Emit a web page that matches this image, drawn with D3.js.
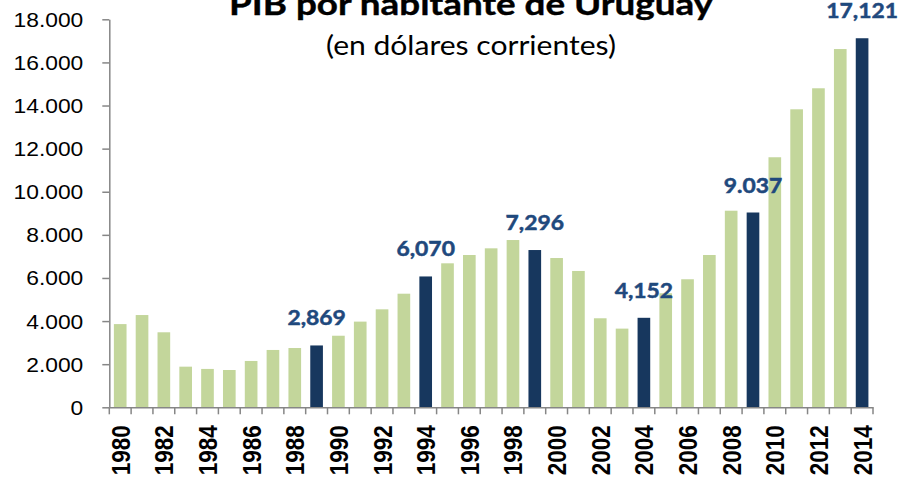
<!DOCTYPE html>
<html>
<head>
<meta charset="utf-8">
<script src="https://cdn.jsdelivr.net/npm/d3@7"></script>
<style>
  html, body { margin: 0; padding: 0; background: #ffffff; }
  svg { display: block; }
</style>
</head>
<body>
<svg id="chart" width="901" height="481"></svg>
<script>
// ---- Data ----
const years = [1980,1981,1982,1983,1984,1985,1986,1987,1988,1989,
               1990,1991,1992,1993,1994,1995,1996,1997,1998,1999,
               2000,2001,2002,2003,2004,2005,2006,2007,2008,2009,
               2010,2011,2012,2013,2014];
const gdpPerCapita = [3860,4280,3480,1885,1780,1730,2150,2660,2750,2869,
                      3320,3975,4545,5270,6070,6680,7065,7375,7760,7296,
                      6925,6325,4130,3650,4152,5290,5940,7065,9120,9037,
                      11600,13825,14800,16620,17121];
const highlightYears = [1989,1994,1999,2004,2009,2014];
const highlightLabels = ["2,869","6,070","7,296","4,152","9.037","17,121"];
const yTicks = [0,2000,4000,6000,8000,10000,12000,14000,16000,18000];
const titleText = "PIB por habitante de Uruguay";
const subtitleText = "(en dólares corrientes)";

// ---- Layout ----
const svg = d3.select("#chart");
const plotLeft = 109.3, plotRight = 873, plotTop = 19.3, plotBottom = 407.3;
const green = "#C3D69B", navy = "#17375E", labelBlue = "#1F497D", axisGray = "#868686";
const sx = 1.17;

const x = d3.scaleBand().domain(years).range([plotLeft, plotRight]).paddingInner(0.42).paddingOuter(0.21);
const y = d3.scaleLinear().domain([0, 18000]).range([plotBottom, plotTop]);
const fmt = d3.formatLocale({decimal: ",", thousands: ".", grouping: [3], currency: ["", ""]}).format(",d");

// Bars
svg.append("g").selectAll("rect").data(years).join("rect")
  .attr("x", d => x(d))
  .attr("width", x.bandwidth())
  .attr("y", (d, i) => y(gdpPerCapita[i]))
  .attr("height", (d, i) => y(0) - y(gdpPerCapita[i]))
  .attr("fill", d => highlightYears.includes(d) ? navy : green);

// Y axis
const yAxis = svg.append("g").attr("transform", `translate(${plotLeft},0)`)
  .call(d3.axisLeft(y).tickValues(yTicks).tickSize(7).tickSizeOuter(0).tickFormat(fmt));
yAxis.select(".domain").attr("stroke", axisGray).attr("stroke-width", 1.5);
yAxis.selectAll(".tick line").attr("stroke", axisGray).attr("stroke-width", 1.5);
yAxis.selectAll(".tick text")
  .attr("x", null).attr("dy", null)
  .attr("transform", "translate(-26,7) scale(" + sx + ",1)")
  .attr("text-anchor", "end")
  .attr("fill", "#000")
  .style("font-family", "'Liberation Sans', Arial, sans-serif")
  .style("font-size", "19.5px");

// X axis
const xAxis = svg.append("g").attr("transform", `translate(0,${plotBottom})`)
  .call(d3.axisBottom(x).tickSize(0).tickSizeOuter(0).tickFormat(d => d % 2 === 0 ? String(d) : ""));
xAxis.select(".domain").attr("stroke", axisGray).attr("stroke-width", 1.5);
xAxis.selectAll(".tick text")
  .attr("x", null).attr("y", null)
  .attr("transform", "translate(0,18) scale(" + sx + ",1) rotate(-90)")
  .attr("text-anchor", "end")
  .attr("dy", "0.36em")
  .attr("fill", "#000")
  .style("font-family", "'Liberation Sans', Arial, sans-serif")
  .style("font-weight", "bold")
  .style("font-size", "22.5px");
// Tick marks at category boundaries
const step = x.step();
const boundaries = d3.range(years.length + 1).map(i => x(years[0]) - x.paddingOuter() * step + i * step);
xAxis.selectAll(".bound").data(boundaries).join("line")
  .attr("class", "bound")
  .attr("x1", d => d).attr("x2", d => d)
  .attr("y1", 0).attr("y2", 7)
  .attr("stroke", axisGray).attr("stroke-width", 1.5);

// Data labels
svg.append("g").selectAll("text").data(highlightYears).join("text")
  .attr("transform", (d, i) => {
    const v = gdpPerCapita[years.indexOf(d)];
    return `translate(${x(d) + x.bandwidth() / 2},${y(v) - 20}) scale(1.09,1)`;
  })
  .attr("text-anchor", "middle")
  .attr("fill", labelBlue)
  .attr("stroke", labelBlue)
  .attr("stroke-width", 0.5)
  .style("font-family", "Lato, 'Open Sans', sans-serif")
  .style("font-weight", "bold")
  .style("font-size", "21px")
  .text((d, i) => highlightLabels[i]);

// Title
svg.append("text")
  .attr("x", 229).attr("y", 15)
  .attr("textLength", 484).attr("lengthAdjust", "spacingAndGlyphs")
  .attr("fill", "#000")
  .attr("stroke", "#000")
  .attr("stroke-width", 0.4)
  .style("font-family", "Lato, 'Open Sans', sans-serif")
  .style("font-weight", "bold")
  .style("font-size", "31px")
  .text(titleText);

svg.append("text")
  .attr("x", 326).attr("y", 55)
  .attr("textLength", 290).attr("lengthAdjust", "spacingAndGlyphs")
  .attr("fill", "#000")
  .style("font-family", "Lato, 'Open Sans', sans-serif")
  .style("font-size", "26px")
  .text(subtitleText);
</script>
</body>
</html>
